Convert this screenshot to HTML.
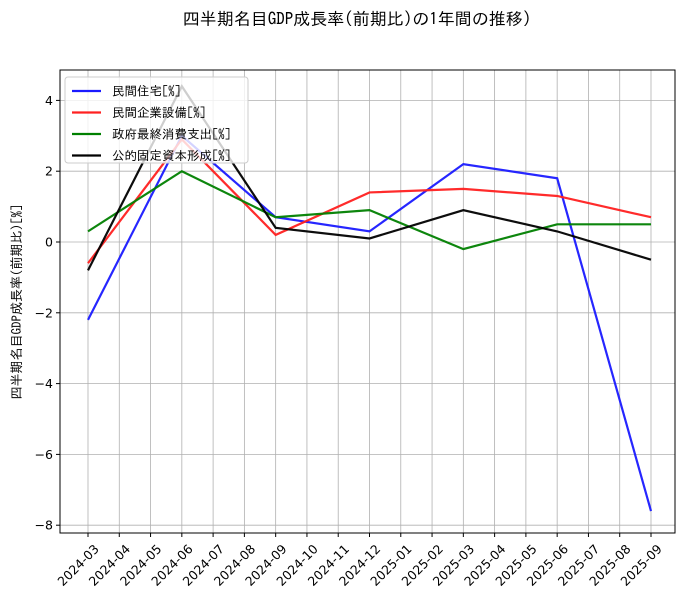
<!DOCTYPE html>
<html><head><meta charset="utf-8"><style>
body{margin:0;background:#fff;font-family:"Liberation Sans","Noto Sans CJK JP",sans-serif}
.jp{font-family:"IPAGothic","Noto Sans CJK JP",monospace}
.tk{font-family:"DejaVu Sans",sans-serif}
</style></head><body>
<svg id="chart" width="689" height="602" xmlns="http://www.w3.org/2000/svg">
<text class="jp" x="357" y="25" text-anchor="middle" font-size="17">四半期名目GDP成長率(前期比)の1年間の推移)</text>
<text class="jp" transform="translate(21,302) rotate(-90)" text-anchor="middle" font-size="13">四半期名目GDP成長率(前期比)[%]</text>
<g id="grid"></g><g id="series"></g><g id="axes"></g><g id="legend"></g>
</svg>
<script>
const months=["2024-03","2024-04","2024-05","2024-06","2024-07","2024-08","2024-09","2024-10","2024-11","2024-12","2025-01","2025-02","2025-03","2025-04","2025-05","2025-06","2025-07","2025-08","2025-09"];
const dataMonths=["2024-03","2024-06","2024-09","2024-12","2025-03","2025-06","2025-09"];
const housing=[-2.2,3.0,0.7,0.3,2.2,1.8,-7.6];
const capex=[-0.6,2.9,0.2,1.4,1.5,1.3,0.7];
const govt=[0.3,2.0,0.7,0.9,-0.2,0.5,0.5];
const publicInv=[-0.8,4.4,0.4,0.1,0.9,0.3,-0.5];
const yTicks=[-8,-6,-4,-2,0,2,4];
const seriesNames=["民間住宅[%]","民間企業設備[%]","政府最終消費支出[%]","公的固定資本形成[%]"];
const NS="http://www.w3.org/2000/svg";
const L=60,R=675,T=70,B=533;
const x=m=>88+months.indexOf(m)*(651-88)/18;
const y=v=>242-v*35.4;
function mk(tag,attrs,parent){const e=document.createElementNS(NS,tag);for(const k in attrs)e.setAttribute(k,attrs[k]);parent.appendChild(e);return e;}
const grid=document.getElementById('grid'),axes=document.getElementById('axes'),ser=document.getElementById('series'),leg=document.getElementById('legend');
months.forEach(m=>{
 const g=mk('line',{x1:x(m),x2:x(m),y1:T,y2:B,stroke:'#b0b0b0','stroke-width':0.8},grid);
 
 
 mk('line',{x1:x(m),x2:x(m),y1:B,y2:B+4,stroke:'#000'},axes);
 const t=mk('text',{class:'tk',transform:`translate(${x(m)+5},${B+10}) rotate(-45)`,'text-anchor':'end','dominant-baseline':'hanging','font-size':12.5},axes);
 t.textContent=m;
 
 
});
yTicks.forEach(v=>{
 const g=mk('line',{x1:L,x2:R,y1:y(v),y2:y(v),stroke:'#b0b0b0','stroke-width':0.8},grid);
 
 
 mk('line',{x1:L-4,x2:L,y1:y(v),y2:y(v),stroke:'#000'},axes);
 const t=mk('text',{class:'tk',x:L-7,y:y(v)+4.5,'text-anchor':'end','font-size':12.5},axes);
 t.textContent=v<0?'−'+Math.abs(v):String(v);
 
 
});
const fr=mk('rect',{x:L,y:T,width:R-L,height:B-T,fill:'none',stroke:'#000','stroke-width':1},axes);


const all=[housing,capex,govt,publicInv],cols=['#1a1aff','#ff2020','#008000','#000'],names=['series-housing','series-capex','series-govt','series-public-investment'];
all.forEach((d,i)=>{
 const p=mk('polyline',{points:d.map((v,j)=>x(dataMonths[j])+','+y(v)).join(' '),fill:'none',stroke:cols[i],'stroke-width':2.2,opacity:0.95},ser);
 
 
});
const box=mk('rect',{x:65,y:77,width:183,height:86,rx:3,fill:'#fff','fill-opacity':0.8,stroke:'#ccc'},leg);


seriesNames.forEach((n,i)=>{
 const yy=91+i*21.5;
 mk('line',{x1:72,x2:101,y1:yy,y2:yy,stroke:cols[i],'stroke-width':2.2},leg);
 const t=mk('text',{class:'jp',x:112,y:yy+4.5,'font-size':12.5},leg);
 t.textContent=n;
 
 
});
</script>
</body></html>
